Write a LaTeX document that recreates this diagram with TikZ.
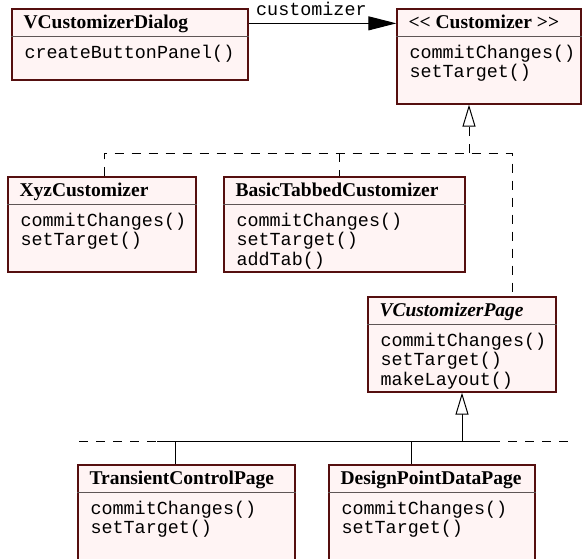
\documentclass[tikz,border=0pt]{standalone}
\usepackage{fontspec}
\setmainfont{Liberation Serif}
\newfontfamily\monofont{Liberation Mono}
\usetikzlibrary{arrows.meta,fit}
\definecolor{boxfill}{RGB}{255,244,244}
\definecolor{boxdraw}{RGB}{85,15,15}
\definecolor{sepcol}{RGB}{95,85,85}
\tikzset{
 clsbox/.style={draw=boxdraw, fill=boxfill, line width=1.3pt, inner sep=0pt, rectangle},
 sepline/.style={draw=sepcol, line width=1.4pt},
 ttl/.style={font=\bfseries\fontsize{19.5}{22}\selectfont, inner sep=0pt, anchor=base west},
 meth/.style={font=\monofont\fontsize{18.4}{21}\selectfont, inner sep=0pt, anchor=base west},
 conn/.style={line width=1pt, black},
 dl/.style={conn, dash pattern=on 9pt off 8pt},
 gentip/.style={-{Triangle[open, length=22pt, width=13pt, fill=white]}},
 assoc/.style={conn, -{Triangle[length=28pt, width=14pt]}},
}
\newcommand\umlclass[7]{%
 \node[clsbox, fit={(#2,#3) (#4,#5)}] (#1) {};
 \draw[sepline] ([yshift=-28pt]#1.north west) -- ([yshift=-28pt]#1.north east);
 \node[ttl] (#1-t) at ([xshift=12pt,yshift=-20pt]#1.north west) {#6};
 \foreach \m [count=\i] in {#7} {
   \node[meth] (#1-m\i) at ([xshift=13pt,yshift={-50pt-19.5pt*(\i-1)}]#1.north west) {\m};
 }%
}
\begin{document}
\begin{tikzpicture}[x=1pt,y=-1pt]
\useasboundingbox (0,0) rectangle (582,558);
\clip (0,0) rectangle (582,558);
\umlclass{dlg}{12}{9}{248}{80}{VCustomizerDialog}{createButtonPanel()}
\umlclass{cust}{397}{9}{581}{104}{<{}< Customizer >{}>}{commitChanges(),setTarget()}
\umlclass{xyz}{8}{177}{196}{272}{XyzCustomizer}{commitChanges(),setTarget()}
\umlclass{basic}{224}{177}{465}{272}{BasicTabbedCustomizer}{commitChanges(),setTarget(),addTab()}
\umlclass{vcp}{368}{297}{556}{392}{\itshape VCustomizerPage}{commitChanges(),setTarget(),makeLayout()}
\umlclass{tcp}{78}{465}{295}{575}{TransientControlPage}{commitChanges(),setTarget()}
\umlclass{dpd}{329}{465}{535}{575}{DesignPointDataPage}{commitChanges(),setTarget()}

% association
\draw[assoc] ([yshift=-15pt]dlg.north east) -- ([yshift=-15pt]cust.north west);
\node[meth] (lbl) at (256,15) {customizer};

% realization tree (top)
\coordinate (jc) at (469,153);
\coordinate (hL) at (104,153);
\coordinate (hB) at (339,153);
\coordinate (hR) at (512,153);
\draw[dl, gentip] (jc) -- (cust.south -| jc);
\draw[dl] (xyz.north -| hL) -- (hL) -- (hR) -- (vcp.north -| hR);
\draw[dl] (hB) -- (basic.north -| hB);

% generalization tree (bottom)
\coordinate (bj) at (462,441);
\coordinate (bL0) at (79,441);
\coordinate (bL) at (157,441);
\coordinate (bR) at (491,441);
\coordinate (bR0) at (570,441);
\coordinate (bt) at (175,441);
\coordinate (bd) at (411,441);
\draw[conn, gentip] (bj) -- (vcp.south -| bj);
\draw[dl] (bL0) -- (bL);
\draw[conn] (bL) -- (bR);
\draw[dl] (bR) -- (bR0);
\draw[conn] (bt) -- (tcp.north -| bt);
\draw[conn] (bd) -- (dpd.north -| bd);
\end{tikzpicture}
\end{document}
